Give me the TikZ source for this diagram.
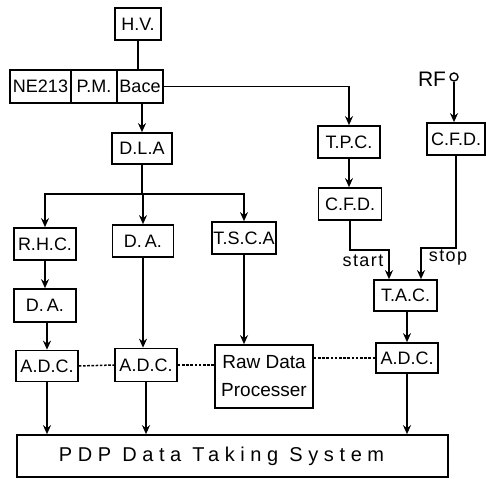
\documentclass[tikz,border=0pt]{standalone}
\usepackage{fontspec}
\setmainfont{Liberation Sans}
\usetikzlibrary{arrows.meta}
\begin{document}
\begin{tikzpicture}[x=1pt,y=-1pt,
  box/.style={draw,line width=1.7pt,inner sep=0pt,font=\fontsize{18}{20}\selectfont},
  sz/.style 2 args={minimum width=#1pt,minimum height=#2pt},
  conn/.style={line width=1.7pt},
  arr/.style={conn,-{Stealth[length=9pt,width=8pt,inset=3pt]}},
  dots/.style={line width=1.5pt,dash pattern=on 2.6pt off 1.6pt},
  lbl/.style={inner sep=0pt,font=\fontsize{18}{20}\selectfont\addfontfeature{LetterSpace=8}}]
\useasboundingbox (0,0) rectangle (486,478);
% top
\node[box,sz={46}{32}] (hv) at (138,24) {H.V.};
\node[box,sz={61}{33}] (ne) at (40.5,86.5) {NE213};
\node[box,sz={46}{33}] (pm) at (94,86.5) {P.M.};
\node[box,sz={46}{33}] (bace) at (140,86.5) {Bace};
\node[box,sz={60}{31}] (dla) at (142,148.5) {D.L.A};
% left branches
\node[box,sz={62}{32}] (rhc) at (45,244) {R.H.C.};
\node[box,sz={61}{32}] (dam) at (143,241) {D.\,A.};
\node[box,sz={64}{32}] (tsca) at (244,238) {T.S.C.A};
\node[box,sz={62}{33}] (dal) at (45,305.5) {D.\,A.};
\node[box,sz={62}{31}] (adcl) at (47,366) {A.D.C.};
\node[box,sz={62}{33}] (adcm) at (146,365) {A.D.C.};
\node[box,sz={98}{63},align=center,font=\fontsize{19}{28}\selectfont] (raw) at (264,376.5) {Raw Data\\Processer};
\node[box,sz={62}{30}] (adcr) at (407,358) {A.D.C.};
\node[box,sz={431}{42}] (pdp) at (232.5,456) {\fontsize{20}{22}\selectfont\addfontfeature{LetterSpace=28}PDP Data Taking System\hspace*{22pt}};
% right side
\node[box,sz={62}{32}] (tpc) at (349,142) {T.P.C.};
\node[box,sz={58}{32}] (cfdr) at (456,139) {C.F.D.};
\node[box,sz={63}{32}] (cfdm) at (350,204) {C.F.D.};
\node[box,sz={63}{31}] (tac) at (405.5,295.5) {T.A.C.};
\node[circle,draw,line width=1.4pt,minimum size=8pt,inner sep=0pt] (rf) at (454,77) {};
\node[inner sep=0pt,font=\fontsize{21}{23}\selectfont] (rft) at (432,79) {RF};
\node[lbl] (start) at (363,261) {start};
\node[lbl] (stop) at (448,258) {stop};
\coordinate (bar) at (142,194);
\coordinate (startc) at (389,250);
\coordinate (stopc) at (421,248);
% connectors
\draw[conn] (hv.south) -- (hv.south |- bace.north);
\draw[arr] (bace.east) -| (tpc.north);
\draw[arr] (bace.south -| dla.north) -- (dla.north);
\draw[conn] (dla.south) -- (bar);
\draw[arr] (bar) -| (rhc.north);
\draw[arr] (bar) -| (tsca.north);
\draw[arr] (dam.north |- bar) -- (dam.north);
\draw[arr] (rhc.south) -- (rhc.south |- dal.north);
\draw[arr] (adcl.north |- dal.south) -- (adcl.north);
\draw[arr] (dam.south) -- (dam.south |- adcm.north);
\draw[arr] (tsca.south) -- (tsca.south |- raw.north);
\draw[arr] (tpc.south) -- (tpc.south |- cfdm.north);
\draw[arr] (rf.south) -- (rf.south |- cfdr.north);
\draw[arr] (cfdm.south) |- (startc) -- (startc |- tac.north);
\draw[arr] (cfdr.south) |- (stopc) -- (stopc |- tac.north);
\draw[arr] (adcr.north |- tac.south) -- (adcr.north);
\draw[arr] (adcl.south) -- (adcl.south |- pdp.north);
\draw[arr] (adcm.south) -- (adcm.south |- pdp.north);
\draw[arr] (adcr.south) -- (adcr.south |- pdp.north);
\draw[dots] (adcl.east) -- (adcm.west);
\draw[dots] (adcm.east) -- (adcm.east -| raw.west);
\draw[dots] (adcr.west -| raw.east) -- (adcr.west);
\end{tikzpicture}
\end{document}
